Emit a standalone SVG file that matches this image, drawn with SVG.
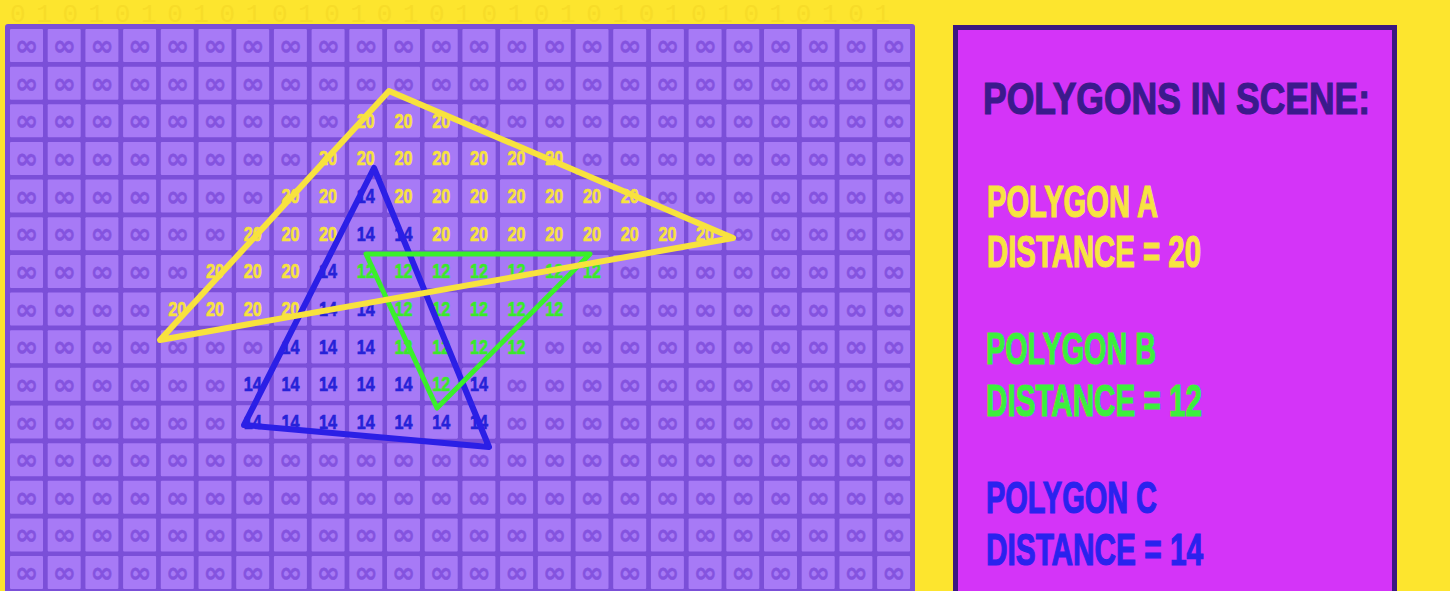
<svg xmlns="http://www.w3.org/2000/svg" xmlns:xlink="http://www.w3.org/1999/xlink" width="1450" height="591" viewBox="0 0 1450 591">
<style>
.cell{fill:#a77af6}
.inf{font-family:"DejaVu Sans",sans-serif;font-weight:bold;font-size:28px;fill:#8453df;stroke:#8453df;stroke-width:0.45px;text-anchor:middle}
.n{font-family:"Liberation Sans",Arial,sans-serif;font-weight:bold;font-size:20px;text-anchor:middle;stroke-width:0.6px}
.y{fill:#f7e23e;stroke:#f7e23e}
.b{fill:#2622d8;stroke:#2622d8}
.g{fill:#3ae92a;stroke:#3ae92a}
.bin{font-family:"Liberation Mono",monospace;font-size:26px;fill:#f7dc28}
.tri{fill:none;stroke-linejoin:round;stroke-linecap:round}
.lg{font-family:"Liberation Sans",Arial,sans-serif;font-weight:bold;font-size:44px;stroke-width:1.2px}
</style>
<defs>
<rect id="b" width="33" height="33" rx="1" class="cell"/>
<g id="cell"><use href="#b"/><text x="16.5" y="26" class="inf">∞</text></g>
<g id="row">
<use href="#cell" x="0"/><use href="#cell" x="37.7"/><use href="#cell" x="75.4"/><use href="#cell" x="113.1"/><use href="#cell" x="150.8"/><use href="#cell" x="188.5"/><use href="#cell" x="226.2"/><use href="#cell" x="263.9"/><use href="#cell" x="301.6"/><use href="#cell" x="339.3"/><use href="#cell" x="377"/><use href="#cell" x="414.7"/><use href="#cell" x="452.4"/><use href="#cell" x="490.1"/><use href="#cell" x="527.8"/><use href="#cell" x="565.5"/><use href="#cell" x="603.2"/><use href="#cell" x="640.9"/><use href="#cell" x="678.6"/><use href="#cell" x="716.3"/><use href="#cell" x="754"/><use href="#cell" x="791.7"/><use href="#cell" x="829.4"/><use href="#cell" x="867.1"/>
</g>
</defs>
<g id="background">
<rect width="1450" height="591" fill="#fde52e"/>
<text class="bin" x="10" y="22" textLength="880" lengthAdjust="spacing">0 1 0 1 0 1 0 1 0 1 0 1 0 1 0 1 0 1 0 1 0 1 0 1 0 1 0 1 0 1 0 1 0 1</text>
</g>
<g id="grid-panel">
<rect x="5" y="24" width="910" height="580" rx="3" fill="#7b4fd8"/>
<use href="#row" x="10" y="29"/>
<use href="#row" x="10" y="66.65"/>
<use href="#row" x="10" y="104.3"/>
<use href="#row" x="10" y="141.95"/>
<use href="#row" x="10" y="179.6"/>
<use href="#row" x="10" y="217.25"/>
<use href="#row" x="10" y="254.9"/>
<use href="#row" x="10" y="292.55"/>
<use href="#row" x="10" y="330.2"/>
<use href="#row" x="10" y="367.85"/>
<use href="#row" x="10" y="405.5"/>
<use href="#row" x="10" y="443.15"/>
<use href="#row" x="10" y="480.8"/>
<use href="#row" x="10" y="518.45"/>
<use href="#row" x="10" y="556.1"/>
</g>
<g id="distance-cells">
<use href="#b" x="349.3" y="104.3"/><text class="n y" x="365.8" y="127.8" textLength="18" lengthAdjust="spacingAndGlyphs">20</text>
<use href="#b" x="387" y="104.3"/><text class="n y" x="403.5" y="127.8" textLength="18" lengthAdjust="spacingAndGlyphs">20</text>
<use href="#b" x="424.7" y="104.3"/><text class="n y" x="441.2" y="127.8" textLength="18" lengthAdjust="spacingAndGlyphs">20</text>
<use href="#b" x="311.6" y="141.95"/><text class="n y" x="328.1" y="165.45" textLength="18" lengthAdjust="spacingAndGlyphs">20</text>
<use href="#b" x="349.3" y="141.95"/><text class="n y" x="365.8" y="165.45" textLength="18" lengthAdjust="spacingAndGlyphs">20</text>
<use href="#b" x="387" y="141.95"/><text class="n y" x="403.5" y="165.45" textLength="18" lengthAdjust="spacingAndGlyphs">20</text>
<use href="#b" x="424.7" y="141.95"/><text class="n y" x="441.2" y="165.45" textLength="18" lengthAdjust="spacingAndGlyphs">20</text>
<use href="#b" x="462.4" y="141.95"/><text class="n y" x="478.9" y="165.45" textLength="18" lengthAdjust="spacingAndGlyphs">20</text>
<use href="#b" x="500.1" y="141.95"/><text class="n y" x="516.6" y="165.45" textLength="18" lengthAdjust="spacingAndGlyphs">20</text>
<use href="#b" x="537.8" y="141.95"/><text class="n y" x="554.3" y="165.45" textLength="18" lengthAdjust="spacingAndGlyphs">20</text>
<use href="#b" x="273.9" y="179.6"/><text class="n y" x="290.4" y="203.1" textLength="18" lengthAdjust="spacingAndGlyphs">20</text>
<use href="#b" x="311.6" y="179.6"/><text class="n y" x="328.1" y="203.1" textLength="18" lengthAdjust="spacingAndGlyphs">20</text>
<use href="#b" x="349.3" y="179.6"/><text class="n b" x="365.8" y="203.1" textLength="18" lengthAdjust="spacingAndGlyphs">14</text>
<use href="#b" x="387" y="179.6"/><text class="n y" x="403.5" y="203.1" textLength="18" lengthAdjust="spacingAndGlyphs">20</text>
<use href="#b" x="424.7" y="179.6"/><text class="n y" x="441.2" y="203.1" textLength="18" lengthAdjust="spacingAndGlyphs">20</text>
<use href="#b" x="462.4" y="179.6"/><text class="n y" x="478.9" y="203.1" textLength="18" lengthAdjust="spacingAndGlyphs">20</text>
<use href="#b" x="500.1" y="179.6"/><text class="n y" x="516.6" y="203.1" textLength="18" lengthAdjust="spacingAndGlyphs">20</text>
<use href="#b" x="537.8" y="179.6"/><text class="n y" x="554.3" y="203.1" textLength="18" lengthAdjust="spacingAndGlyphs">20</text>
<use href="#b" x="575.5" y="179.6"/><text class="n y" x="592" y="203.1" textLength="18" lengthAdjust="spacingAndGlyphs">20</text>
<use href="#b" x="613.2" y="179.6"/><text class="n y" x="629.7" y="203.1" textLength="18" lengthAdjust="spacingAndGlyphs">20</text>
<use href="#b" x="236.2" y="217.25"/><text class="n y" x="252.7" y="240.75" textLength="18" lengthAdjust="spacingAndGlyphs">20</text>
<use href="#b" x="273.9" y="217.25"/><text class="n y" x="290.4" y="240.75" textLength="18" lengthAdjust="spacingAndGlyphs">20</text>
<use href="#b" x="311.6" y="217.25"/><text class="n y" x="328.1" y="240.75" textLength="18" lengthAdjust="spacingAndGlyphs">20</text>
<use href="#b" x="349.3" y="217.25"/><text class="n b" x="365.8" y="240.75" textLength="18" lengthAdjust="spacingAndGlyphs">14</text>
<use href="#b" x="387" y="217.25"/><text class="n b" x="403.5" y="240.75" textLength="18" lengthAdjust="spacingAndGlyphs">14</text>
<use href="#b" x="424.7" y="217.25"/><text class="n y" x="441.2" y="240.75" textLength="18" lengthAdjust="spacingAndGlyphs">20</text>
<use href="#b" x="462.4" y="217.25"/><text class="n y" x="478.9" y="240.75" textLength="18" lengthAdjust="spacingAndGlyphs">20</text>
<use href="#b" x="500.1" y="217.25"/><text class="n y" x="516.6" y="240.75" textLength="18" lengthAdjust="spacingAndGlyphs">20</text>
<use href="#b" x="537.8" y="217.25"/><text class="n y" x="554.3" y="240.75" textLength="18" lengthAdjust="spacingAndGlyphs">20</text>
<use href="#b" x="575.5" y="217.25"/><text class="n y" x="592" y="240.75" textLength="18" lengthAdjust="spacingAndGlyphs">20</text>
<use href="#b" x="613.2" y="217.25"/><text class="n y" x="629.7" y="240.75" textLength="18" lengthAdjust="spacingAndGlyphs">20</text>
<use href="#b" x="650.9" y="217.25"/><text class="n y" x="667.4" y="240.75" textLength="18" lengthAdjust="spacingAndGlyphs">20</text>
<use href="#b" x="688.6" y="217.25"/><text class="n y" x="705.1" y="240.75" textLength="18" lengthAdjust="spacingAndGlyphs">20</text>
<use href="#b" x="198.5" y="254.9"/><text class="n y" x="215" y="278.4" textLength="18" lengthAdjust="spacingAndGlyphs">20</text>
<use href="#b" x="236.2" y="254.9"/><text class="n y" x="252.7" y="278.4" textLength="18" lengthAdjust="spacingAndGlyphs">20</text>
<use href="#b" x="273.9" y="254.9"/><text class="n y" x="290.4" y="278.4" textLength="18" lengthAdjust="spacingAndGlyphs">20</text>
<use href="#b" x="311.6" y="254.9"/><text class="n b" x="328.1" y="278.4" textLength="18" lengthAdjust="spacingAndGlyphs">14</text>
<use href="#b" x="349.3" y="254.9"/><text class="n g" x="365.8" y="278.4" textLength="18" lengthAdjust="spacingAndGlyphs">12</text>
<use href="#b" x="387" y="254.9"/><text class="n g" x="403.5" y="278.4" textLength="18" lengthAdjust="spacingAndGlyphs">12</text>
<use href="#b" x="424.7" y="254.9"/><text class="n g" x="441.2" y="278.4" textLength="18" lengthAdjust="spacingAndGlyphs">12</text>
<use href="#b" x="462.4" y="254.9"/><text class="n g" x="478.9" y="278.4" textLength="18" lengthAdjust="spacingAndGlyphs">12</text>
<use href="#b" x="500.1" y="254.9"/><text class="n g" x="516.6" y="278.4" textLength="18" lengthAdjust="spacingAndGlyphs">12</text>
<use href="#b" x="537.8" y="254.9"/><text class="n g" x="554.3" y="278.4" textLength="18" lengthAdjust="spacingAndGlyphs">12</text>
<use href="#b" x="575.5" y="254.9"/><text class="n g" x="592" y="278.4" textLength="18" lengthAdjust="spacingAndGlyphs">12</text>
<use href="#b" x="160.8" y="292.55"/><text class="n y" x="177.3" y="316.05" textLength="18" lengthAdjust="spacingAndGlyphs">20</text>
<use href="#b" x="198.5" y="292.55"/><text class="n y" x="215" y="316.05" textLength="18" lengthAdjust="spacingAndGlyphs">20</text>
<use href="#b" x="236.2" y="292.55"/><text class="n y" x="252.7" y="316.05" textLength="18" lengthAdjust="spacingAndGlyphs">20</text>
<use href="#b" x="273.9" y="292.55"/><text class="n y" x="290.4" y="316.05" textLength="18" lengthAdjust="spacingAndGlyphs">20</text>
<use href="#b" x="311.6" y="292.55"/><text class="n b" x="328.1" y="316.05" textLength="18" lengthAdjust="spacingAndGlyphs">14</text>
<use href="#b" x="349.3" y="292.55"/><text class="n b" x="365.8" y="316.05" textLength="18" lengthAdjust="spacingAndGlyphs">14</text>
<use href="#b" x="387" y="292.55"/><text class="n g" x="403.5" y="316.05" textLength="18" lengthAdjust="spacingAndGlyphs">12</text>
<use href="#b" x="424.7" y="292.55"/><text class="n g" x="441.2" y="316.05" textLength="18" lengthAdjust="spacingAndGlyphs">12</text>
<use href="#b" x="462.4" y="292.55"/><text class="n g" x="478.9" y="316.05" textLength="18" lengthAdjust="spacingAndGlyphs">12</text>
<use href="#b" x="500.1" y="292.55"/><text class="n g" x="516.6" y="316.05" textLength="18" lengthAdjust="spacingAndGlyphs">12</text>
<use href="#b" x="537.8" y="292.55"/><text class="n g" x="554.3" y="316.05" textLength="18" lengthAdjust="spacingAndGlyphs">12</text>
<use href="#b" x="273.9" y="330.2"/><text class="n b" x="290.4" y="353.7" textLength="18" lengthAdjust="spacingAndGlyphs">14</text>
<use href="#b" x="311.6" y="330.2"/><text class="n b" x="328.1" y="353.7" textLength="18" lengthAdjust="spacingAndGlyphs">14</text>
<use href="#b" x="349.3" y="330.2"/><text class="n b" x="365.8" y="353.7" textLength="18" lengthAdjust="spacingAndGlyphs">14</text>
<use href="#b" x="387" y="330.2"/><text class="n g" x="403.5" y="353.7" textLength="18" lengthAdjust="spacingAndGlyphs">12</text>
<use href="#b" x="424.7" y="330.2"/><text class="n g" x="441.2" y="353.7" textLength="18" lengthAdjust="spacingAndGlyphs">12</text>
<use href="#b" x="462.4" y="330.2"/><text class="n g" x="478.9" y="353.7" textLength="18" lengthAdjust="spacingAndGlyphs">12</text>
<use href="#b" x="500.1" y="330.2"/><text class="n g" x="516.6" y="353.7" textLength="18" lengthAdjust="spacingAndGlyphs">12</text>
<use href="#b" x="236.2" y="367.85"/><text class="n b" x="252.7" y="391.35" textLength="18" lengthAdjust="spacingAndGlyphs">14</text>
<use href="#b" x="273.9" y="367.85"/><text class="n b" x="290.4" y="391.35" textLength="18" lengthAdjust="spacingAndGlyphs">14</text>
<use href="#b" x="311.6" y="367.85"/><text class="n b" x="328.1" y="391.35" textLength="18" lengthAdjust="spacingAndGlyphs">14</text>
<use href="#b" x="349.3" y="367.85"/><text class="n b" x="365.8" y="391.35" textLength="18" lengthAdjust="spacingAndGlyphs">14</text>
<use href="#b" x="387" y="367.85"/><text class="n b" x="403.5" y="391.35" textLength="18" lengthAdjust="spacingAndGlyphs">14</text>
<use href="#b" x="424.7" y="367.85"/><text class="n g" x="441.2" y="391.35" textLength="18" lengthAdjust="spacingAndGlyphs">12</text>
<use href="#b" x="462.4" y="367.85"/><text class="n b" x="478.9" y="391.35" textLength="18" lengthAdjust="spacingAndGlyphs">14</text>
<use href="#b" x="236.2" y="405.5"/><text class="n b" x="252.7" y="429" textLength="18" lengthAdjust="spacingAndGlyphs">14</text>
<use href="#b" x="273.9" y="405.5"/><text class="n b" x="290.4" y="429" textLength="18" lengthAdjust="spacingAndGlyphs">14</text>
<use href="#b" x="311.6" y="405.5"/><text class="n b" x="328.1" y="429" textLength="18" lengthAdjust="spacingAndGlyphs">14</text>
<use href="#b" x="349.3" y="405.5"/><text class="n b" x="365.8" y="429" textLength="18" lengthAdjust="spacingAndGlyphs">14</text>
<use href="#b" x="387" y="405.5"/><text class="n b" x="403.5" y="429" textLength="18" lengthAdjust="spacingAndGlyphs">14</text>
<use href="#b" x="424.7" y="405.5"/><text class="n b" x="441.2" y="429" textLength="18" lengthAdjust="spacingAndGlyphs">14</text>
<use href="#b" x="462.4" y="405.5"/><text class="n b" x="478.9" y="429" textLength="18" lengthAdjust="spacingAndGlyphs">14</text>
</g>
<g id="polygons">
<polygon id="polygon-c" class="tri" points="374,168 489,447 244,425" stroke="#2b1fe6" stroke-width="6"/>
<polygon id="polygon-b" class="tri" points="366,254 590,254 437,408" stroke="#3af02a" stroke-width="5"/>
<polygon id="polygon-a" class="tri" points="389,91 733,238 160,340" stroke="#f8e23e" stroke-width="6"/>
</g>
<g id="legend">
<rect x="955.5" y="27.5" width="439" height="580" fill="#d434f8" stroke="#3a1880" stroke-width="5"/>
<text class="lg" transform="translate(983,114) scale(0.664,1)" x="0" y="0" font-size="54" fill="#3b1a8c" stroke="#3b1a8c" stroke-width="1.8" textLength="583" lengthAdjust="spacingAndGlyphs">POLYGONS IN SCENE:</text>
<text class="lg" x="987" y="217" fill="#f7e440" stroke="#f7e440" textLength="171" lengthAdjust="spacingAndGlyphs">POLYGON A</text>
<text class="lg" x="987" y="267" fill="#f7e440" stroke="#f7e440" textLength="214" lengthAdjust="spacingAndGlyphs">DISTANCE = 20</text>
<text class="lg" x="986" y="364" fill="#3cf03c" stroke="#3cf03c" textLength="170" lengthAdjust="spacingAndGlyphs">POLYGON B</text>
<text class="lg" x="986" y="416" fill="#3cf03c" stroke="#3cf03c" textLength="216" lengthAdjust="spacingAndGlyphs">DISTANCE = 12</text>
<text class="lg" x="986" y="513" fill="#2a22ee" stroke="#2a22ee" textLength="171" lengthAdjust="spacingAndGlyphs">POLYGON C</text>
<text class="lg" x="986" y="565" fill="#2a22ee" stroke="#2a22ee" textLength="217" lengthAdjust="spacingAndGlyphs">DISTANCE = 14</text>
</g>
</svg>
